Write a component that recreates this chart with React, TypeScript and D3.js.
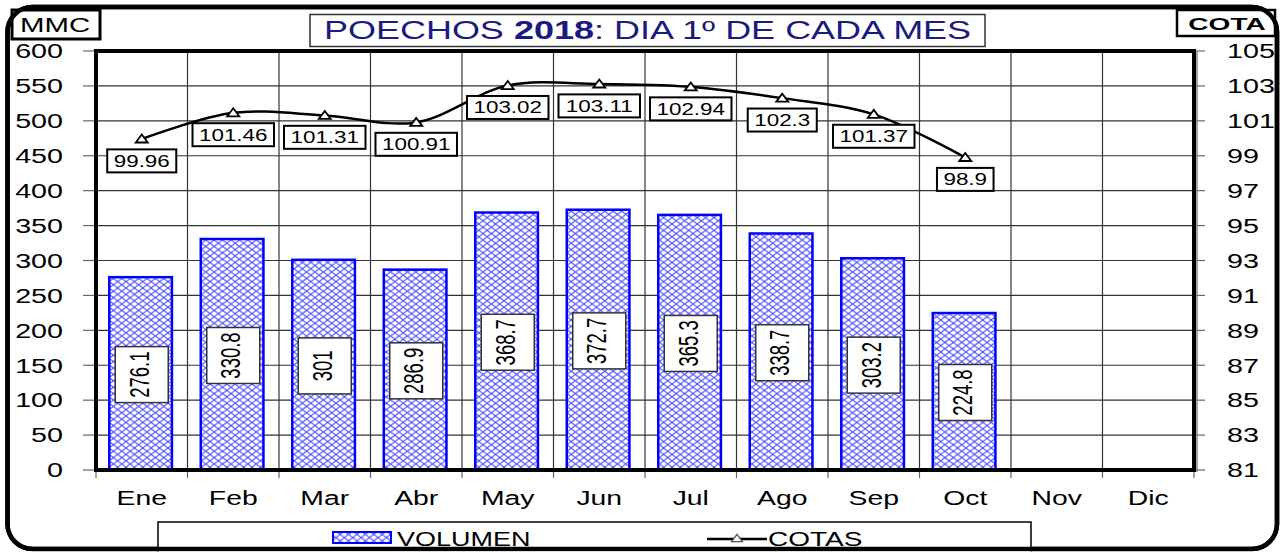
import React from 'react';
import * as d3 from 'd3';

const months = ['Ene', 'Feb', 'Mar', 'Abr', 'May', 'Jun', 'Jul', 'Ago', 'Sep', 'Oct', 'Nov', 'Dic'];
const volumen = [276.1, 330.8, 301, 286.9, 368.7, 372.7, 365.3, 338.7, 303.2, 224.8];
const cotas = [99.96, 101.46, 101.31, 100.91, 103.02, 103.11, 102.94, 102.3, 101.37, 98.9];
const leftTicks = [0, 50, 100, 150, 200, 250, 300, 350, 400, 450, 500, 550, 600];
const rightTicks = [81, 83, 85, 87, 89, 91, 93, 95, 97, 99, 101, 103, 105];

const FONT = "'Liberation Sans', Arial, Helvetica, sans-serif";
const SX = 1.4;

const W = 1280, H = 554;
const PL = 96, PR = 1194, PT = 51, PB = 470;

function textWidthEm(s: string) {
  let w = 0;
  for (const c of s) w += c === '.' ? 0.278 : 0.556;
  return w;
}

export default function App() {
  const x = d3.scaleBand<string>().domain(months).range([PL, PR]).padding(0);
  const bw = x.bandwidth();
  const yL = d3.scaleLinear().domain([0, 600]).range([PB, PT]);
  const yR = d3.scaleLinear().domain([81, 105]).range([PB, PT]);
  const cx = (i: number) => (x(months[i]) as number) + bw / 2;

  const linePts: [number, number][] = cotas.map((c, i) => [cx(i), yR(c)]);
  const lineGen = d3.line().curve(d3.curveCatmullRom.alpha(0.5));
  const tri = (px: number, py: number, s = 1) =>
    `M${px},${py - 4.5 * s}L${px - 6 * s},${py + 3.5 * s}L${px + 6 * s},${py + 3.5 * s}Z`;

  return (
    <div style={{ position: 'absolute', left: 0, top: 0, width: W, height: H, background: '#fff' }}>
      <svg width={W} height={H} style={{ display: 'block' }} fontFamily={FONT}>
        <defs>
          <pattern id="hatch" width={8.4} height={6.4} patternUnits="userSpaceOnUse">
            <rect width={8.4} height={6.4} fill="#fff" />
            <path d="M0,0L8.4,6.4M0,6.4L8.4,0" stroke="#4040ff" strokeWidth={0.95} fill="none" />
          </pattern>
        </defs>
        <rect width={W} height={H} fill="#fff" />

        {/* outer frame */}
        <rect x={7.5} y={7} width={1269.5} height={542} rx={25} ry={25} fill="none" stroke="#000" strokeWidth={4.5} />

        {/* MMC box */}
        <rect x={12} y={10} width={88} height={29} fill="#fff" stroke="#000" strokeWidth={3} />
        <text transform={`translate(20,32) scale(${SX},1)`} fontSize={21}>MMC</text>

        {/* COTA box */}
        <rect x={1177} y={10} width={98} height={26} fill="#fff" stroke="#000" strokeWidth={2.5} />
        <text transform={`translate(1227,29.5) scale(1.65,1)`} fontSize={17} fontWeight="bold" textAnchor="middle">COTA</text>

        {/* Title */}
        <rect x={310} y={14.5} width={675} height={32} fill="#fff" stroke="#333" strokeWidth={1.5} />
        <text transform={`translate(647.5,39.3) scale(1.44,1)`} fontSize={25} fill="#1a1a80" textAnchor="middle">
          <tspan>POECHOS </tspan>
          <tspan fontWeight="bold">2018</tspan>
          <tspan>: DIA 1º DE CADA MES</tspan>
        </text>

        {/* plot background */}
        <rect x={PL} y={PT} width={PR - PL} height={PB - PT} fill="#fff" />

        {/* horizontal grid */}
        {leftTicks.map(t => (
          <line key={'hg' + t} x1={PL} x2={PR} y1={yL(t)} y2={yL(t)} stroke="#333" strokeWidth={1.2} />
        ))}
        {/* vertical grid */}
        {months.slice(1).map(m => (
          <line key={'vg' + m} x1={x(m)} x2={x(m)} y1={PT} y2={PB} stroke="#333" strokeWidth={1.2} />
        ))}

        {/* left ticks */}
        {leftTicks.map(t => (
          <g key={'lt' + t}>
            <line x1={83} x2={PL} y1={yL(t)} y2={yL(t)} stroke="#666" strokeWidth={1.2} />
            <text transform={`translate(63,${yL(t) + 7.3}) scale(${SX},1)`} fontSize={20.5} textAnchor="end">{t}</text>
          </g>
        ))}
        {/* right ticks */}
        {rightTicks.map(t => (
          <g key={'rt' + t}>
            <line x1={PR} x2={1205} y1={yR(t)} y2={yR(t)} stroke="#666" strokeWidth={1.2} />
            <text transform={`translate(1227,${yR(t) + 7.3}) scale(${SX},1)`} fontSize={20.5} textAnchor="start">{t}</text>
          </g>
        ))}
        {/* x ticks */}
        {months.map((m, i) => (
          <g key={'xt' + m}>
            <line x1={x(m)} x2={x(m)} y1={PB} y2={478} stroke="#666" strokeWidth={1.2} />
            <text transform={`translate(${cx(i)},505) scale(1.35,1)`} fontSize={21} textAnchor="middle">{m}</text>
          </g>
        ))}
        <line x1={PR} x2={PR} y1={PB} y2={478} stroke="#666" strokeWidth={1.2} />

        {/* bars */}
        {volumen.map((v, i) => (
          <rect key={'b' + i} x={(x(months[i]) as number) + bw * 0.145} y={yL(v)} width={bw * 0.685} height={PB - yL(v)}
            fill="url(#hatch)" stroke="#0000ff" strokeWidth={2.5} />
        ))}

        {/* bar labels */}
        {volumen.map((v, i) => {
          const my = (yL(v) + PB) / 2 + 1;
          return (
            <g key={'bl' + i}>
              <rect x={cx(i) - 26.5} y={my - 28} width={53} height={56} fill="#fff" stroke="#333" strokeWidth={1.5} />
              <text transform={`translate(${cx(i) + 6.8},${my}) scale(1.45,1) rotate(-90)`} fontSize={18.5} textAnchor="middle">{String(v)}</text>
            </g>
          );
        })}

        {/* plot border */}
        <line x1={PR + 3} x2={PR + 3} y1={PT} y2={PB + 2} stroke="#888" strokeWidth={1.5} />
        <rect x={PL} y={PT} width={PR - PL} height={PB - PT} fill="none" stroke="#000" strokeWidth={4} />

        {/* cotas line */}
        <path d={lineGen(linePts) || ''} fill="none" stroke="#000" strokeWidth={2.5} />
        {linePts.map(([px, py], i) => (
          <path key={'m' + i} d={tri(px, py)} fill="#fff" stroke="#000" strokeWidth={1.8} />
        ))}

        {/* cota labels */}
        {cotas.map((c, i) => {
          const s = String(c);
          const tw = textWidthEm(s) * 16 * SX;
          const bwid = tw + 13;
          const [px, py] = linePts[i];
          const top = py + 10.4;
          return (
            <g key={'cl' + i}>
              <rect x={px - bwid / 2} y={top} width={bwid} height={23} fill="#fff" stroke="#000" strokeWidth={2} />
              <text transform={`translate(${px},${top + 17.5}) scale(${SX},1)`} fontSize={16} textAnchor="middle">{s}</text>
            </g>
          );
        })}

        {/* legend */}
        <rect x={158} y={522} width={873} height={40} fill="#fff" stroke="#000" strokeWidth={1.5} />
        <rect x={333} y={532} width={58} height={11} fill="url(#hatch)" stroke="#0000ff" strokeWidth={2} />
        <text transform={`translate(397,545.5) scale(1.35,1)`} fontSize={20}>VOLUMEN</text>
        <line x1={707} x2={767} y1={539} y2={539} stroke="#000" strokeWidth={2.5} />
        <path d={tri(737, 538.5, 0.9)} fill="#fff" stroke="#555" strokeWidth={1.3} />
        <text transform={`translate(768,545.5) scale(1.4,1)`} fontSize={20}>COTAS</text>

        {/* redraw frame bottom over legend */}
        <rect x={7.5} y={7} width={1269.5} height={542} rx={25} ry={25} fill="none" stroke="#000" strokeWidth={4.5} />
        <rect x={0} y={551.5} width={W} height={3} fill="#fff" />
      </svg>
    </div>
  );
}
